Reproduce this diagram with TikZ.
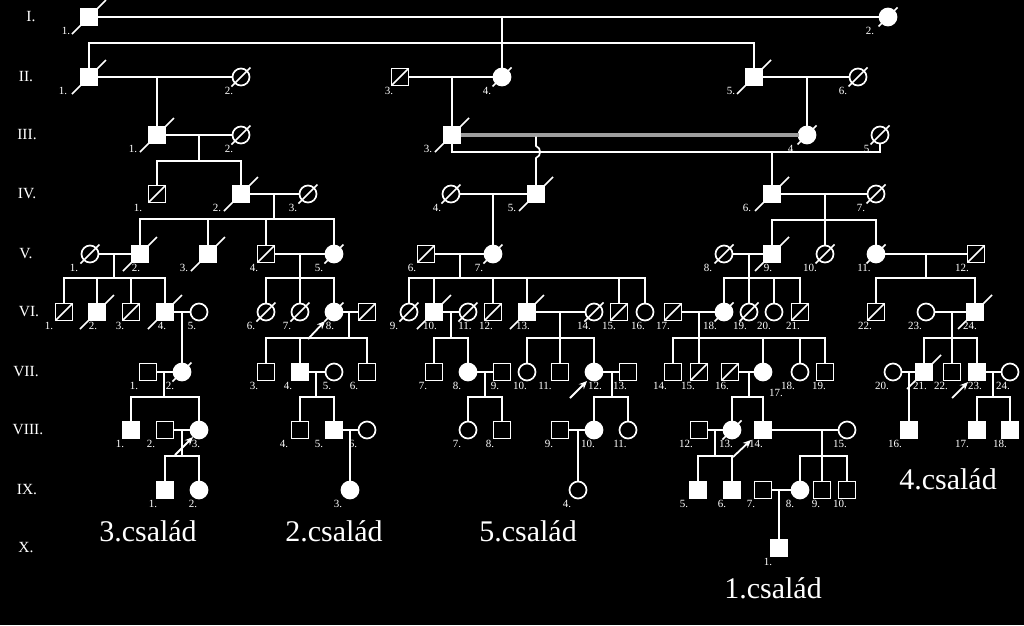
\documentclass[tikz,border=0pt]{standalone}
\usepackage{fontspec}
\setmainfont{Liberation Serif}
\usetikzlibrary{calc,arrows.meta}
\newcommand{\pind}[6]{%
  \node[#4] (#1) at (#2,#3) {};
  \node[num] (#1l) at (#6,#3+14) {#5};}
\newcommand{\dA}[1]{\draw[ln] ($(#1)+(-17,17)$) -- ($(#1)+(17,-17)$);}
\newcommand{\dU}[1]{\draw[ln] (#1.south west) -- (#1.north east);}
\newcommand{\dC}[1]{\draw[ln] ($(#1)+(-9.5,9.5)$) -- ($(#1)+(9.5,-9.5)$);}
\newcommand{\pfam}[5]{\coordinate (#1) at (#3,#4); \coordinate (#2) at (#3,#5); \draw[ln] (#1) -- (#2);}
\begin{document}
\begin{tikzpicture}[x=1pt,y=-1pt,
  pbase/.style={inner sep=0pt, outer sep=0pt, minimum size=17pt, line width=1.7pt, draw=white},
  M/.style={pbase, rectangle},
  MA/.style={M, fill=white},
  F/.style={pbase, circle},
  FA/.style={F, fill=white},
  num/.style={font=\fontsize{11}{11}\selectfont, text=white, inner sep=0pt},
  rowl/.style={font=\fontsize{15.5}{15.5}\selectfont, text=white, inner sep=0pt},
  famt/.style={font=\fontsize{30}{30}\selectfont, text=white, inner sep=0pt, anchor=base},
  ln/.style={draw=white, line width=1.7pt},
  dbl/.style={draw=white!62!black, line width=3.2pt},
  arr/.style={draw=white, line width=1.8pt, -{Stealth[length=8pt,width=7pt]}}
]
\fill[black] (0,0) rectangle (1024,625);
\useasboundingbox (0,0) rectangle (1024,625);

% row labels
\node[rowl] (r1) at (31,17) {I.};
\node[rowl] (r2) at (26,77) {II.};
\node[rowl] (r3) at (27,135) {III.};
\node[rowl] (r4) at (27,194) {IV.};
\node[rowl] (r5) at (26,254) {V.};
\node[rowl] (r6) at (29,312) {VI.};
\node[rowl] (r7) at (26,372) {VII.};
\node[rowl] (r8) at (28,430) {VIII.};
\node[rowl] (r9) at (27,490) {IX.};
\node[rowl] (r10) at (26,548) {X.};

% family captions
\node[famt] (c3) at (148,541) {3.család};
\node[famt] (c2) at (334,541) {2.család};
\node[famt] (c5) at (528,541) {5.család};
\node[famt] (c1) at (773,598) {1.család};
\node[famt] (c4) at (948,489) {4.család};

% ---------- generation I
\pind{i1}{89}{17}{MA}{1.}{66} \dA{i1}
\pind{i2}{888}{17}{FA}{2.}{870} \dC{i2}
% ---------- generation II
\pind{ii1}{89}{77}{MA}{1.}{63} \dA{ii1}
\pind{ii2}{241}{77}{F}{2.}{229} \dC{ii2}
\pind{ii3}{400}{77}{M}{3.}{389} \dU{ii3}
\pind{ii4}{502}{77}{FA}{4.}{487} \dC{ii4}
\pind{ii5}{754}{77}{MA}{5.}{731} \dA{ii5}
\pind{ii6}{858}{77}{F}{6.}{843} \dC{ii6}
% ---------- generation III
\pind{iii1}{157}{135}{MA}{1.}{133} \dA{iii1}
\pind{iii2}{241}{135}{F}{2.}{229} \dC{iii2}
\pind{iii3}{452}{135}{MA}{3.}{428} \dA{iii3}
\pind{iii4}{807}{135}{FA}{4.}{792} \dC{iii4}
\pind{iii5}{880}{135}{F}{5.}{868} \dC{iii5}
% ---------- generation IV
\pind{iv1}{157}{194}{M}{1.}{138} \dU{iv1}
\pind{iv2}{241}{194}{MA}{2.}{217} \dA{iv2}
\pind{iv3}{308}{194}{F}{3.}{293} \dC{iv3}
\pind{iv4}{451}{194}{F}{4.}{437} \dC{iv4}
\pind{iv5}{536}{194}{MA}{5.}{512} \dA{iv5}
\pind{iv6}{772}{194}{MA}{6.}{747} \dA{iv6}
\pind{iv7}{876}{194}{F}{7.}{861} \dC{iv7}
% ---------- generation V
\pind{v1}{90}{254}{F}{1.}{74} \dC{v1}
\pind{v2}{140}{254}{MA}{2.}{136} \dA{v2}
\pind{v3}{208}{254}{MA}{3.}{184} \dA{v3}
\pind{v4}{266}{254}{M}{4.}{254} \dU{v4}
\pind{v5}{334}{254}{FA}{5.}{319} \dC{v5}
\pind{v6}{426}{254}{M}{6.}{412} \dU{v6}
\pind{v7}{493}{254}{FA}{7.}{479} \dC{v7}
\pind{v8}{724}{254}{F}{8.}{708} \dC{v8}
\pind{v9}{772}{254}{MA}{9.}{768} \dA{v9}
\pind{v10}{825}{254}{F}{10.}{810} \dC{v10}
\pind{v11}{876}{254}{FA}{11.}{864} \dC{v11}
\pind{v12}{976}{254}{M}{12.}{962} \dU{v12}
% ---------- generation VI
\pind{vi1}{64}{312}{M}{1.}{49} \dU{vi1}
\pind{vi2}{97}{312}{MA}{2.}{93} \dA{vi2}
\pind{vi3}{131}{312}{M}{3.}{120} \dU{vi3}
\pind{vi4}{165}{312}{MA}{4.}{162} \dA{vi4}
\pind{vi5}{199}{312}{F}{5.}{192}
\pind{vi6}{266}{312}{F}{6.}{251} \dC{vi6}
\pind{vi7}{300}{312}{F}{7.}{287} \dC{vi7}
\pind{vi8}{334}{312}{FA}{8.}{330} \dC{vi8}
\node[M] (vi8s) at (367,312) {}; \dU{vi8s}
\pind{vi9}{409}{312}{F}{9.}{394} \dC{vi9}
\pind{vi10}{434}{312}{MA}{10.}{430} \dA{vi10}
\pind{vi11}{468}{312}{F}{11.}{465} \dC{vi11}
\pind{vi12}{493}{312}{M}{12.}{486} \dU{vi12}
\pind{vi13}{527}{312}{MA}{13.}{523} \dA{vi13}
\pind{vi14}{594}{312}{F}{14.}{584} \dC{vi14}
\pind{vi15}{619}{312}{M}{15.}{609} \dU{vi15}
\pind{vi16}{645}{312}{F}{16.}{638}
\pind{vi17}{673}{312}{M}{17.}{663} \dU{vi17}
\pind{vi18}{724}{312}{FA}{18.}{710} \dC{vi18}
\pind{vi19}{749}{312}{F}{19.}{740} \dC{vi19}
\pind{vi20}{774}{312}{F}{20.}{764}
\pind{vi21}{800}{312}{M}{21.}{793} \dU{vi21}
\pind{vi22}{876}{312}{M}{22.}{865} \dU{vi22}
\pind{vi23}{926}{312}{F}{23.}{915}
\pind{vi24}{975}{312}{MA}{24.}{970} \dA{vi24}
% ---------- generation VII
\pind{vii1}{148}{372}{M}{1.}{134}
\pind{vii2}{182}{372}{FA}{2.}{170} \dC{vii2}
\pind{vii3}{266}{372}{M}{3.}{254}
\pind{vii4}{300}{372}{MA}{4.}{288}
\pind{vii5}{334}{372}{F}{5.}{327}
\pind{vii6}{367}{372}{M}{6.}{354}
\pind{vii7}{434}{372}{M}{7.}{423}
\pind{vii8}{468}{372}{FA}{8.}{457}
\pind{vii9}{502}{372}{M}{9.}{495}
\pind{vii10}{527}{372}{F}{10.}{520}
\pind{vii11}{560}{372}{M}{11.}{545}
\pind{vii12}{594}{372}{FA}{12.}{595}
\pind{vii13}{628}{372}{M}{13.}{620}
\pind{vii14}{673}{372}{M}{14.}{660}
\pind{vii15}{699}{372}{M}{15.}{688} \dU{vii15}
\pind{vii16}{730}{372}{M}{16.}{722} \dU{vii16}
\node[FA] (vii17) at (763,372) {}; \node[num] (vii17l) at (776,393) {17.};
\pind{vii18}{800}{372}{F}{18.}{788}
\pind{vii19}{825}{372}{M}{19.}{819}
\pind{vii20}{893}{372}{F}{20.}{882}
\pind{vii21}{924}{372}{MA}{21.}{920} \dA{vii21}
\pind{vii22}{952}{372}{M}{22.}{941}
\pind{vii23}{977}{372}{MA}{23.}{975}
\pind{vii24}{1010}{372}{F}{24.}{1003}
% ---------- generation VIII
\pind{viii1}{131}{430}{MA}{1.}{120}
\pind{viii2}{165}{430}{M}{2.}{151}
\pind{viii3}{199}{430}{FA}{3.}{196}
\pind{viii4}{300}{430}{M}{4.}{284}
\pind{viii5}{334}{430}{MA}{5.}{319}
\pind{viii6}{367}{430}{F}{6.}{353}
\pind{viii7}{468}{430}{F}{7.}{457}
\pind{viii8}{502}{430}{M}{8.}{490}
\pind{viii9}{560}{430}{M}{9.}{549}
\pind{viii10}{594}{430}{FA}{10.}{588}
\pind{viii11}{628}{430}{F}{11.}{620}
\pind{viii12}{699}{430}{M}{12.}{686}
\pind{viii13}{732}{430}{FA}{13.}{726} \dC{viii13}
\pind{viii14}{763}{430}{MA}{14.}{756}
\pind{viii15}{847}{430}{F}{15.}{840}
\pind{viii16}{909}{430}{MA}{16.}{895}
\pind{viii17}{977}{430}{MA}{17.}{962}
\pind{viii18}{1010}{430}{MA}{18.}{1000}
% ---------- generation IX
\pind{ix1}{165}{490}{MA}{1.}{153}
\pind{ix2}{199}{490}{FA}{2.}{193}
\pind{ix3}{350}{490}{FA}{3.}{338}
\pind{ix4}{578}{490}{F}{4.}{567}
\pind{ix5}{698}{490}{MA}{5.}{684}
\pind{ix6}{732}{490}{MA}{6.}{722}
\pind{ix7}{763}{490}{M}{7.}{751}
\pind{ix8}{800}{490}{FA}{8.}{790}
\pind{ix9}{822}{490}{M}{9.}{816}
\pind{ix10}{847}{490}{M}{10.}{840}
% ---------- generation X
\pind{x1}{779}{548}{MA}{1.}{768}

% ================= connectors
% I
\draw[ln] (i1.east) -- (i2.west);
\pfam{m1}{s1}{502}{17}{43}
\draw[ln] (s1) -- (ii4.north);
\draw[ln] (ii1.north) |- (s1) -| (ii5.north);
% II
\draw[ln] (ii1.east) -- (ii2.west);
\coordinate (m2) at (157,77); \draw[ln] (m2) -- (iii1.north);
\draw[ln] (ii3.east) -- (ii4.west);
\coordinate (m3) at (452,77); \draw[ln] (m3) -- (iii3.north);
\draw[ln] (ii5.east) -- (ii6.west);
\coordinate (m4) at (807,77); \draw[ln] (m4) -- (iii4.north);
% III
\draw[ln] (iii1.east) -- (iii2.west);
\pfam{m5}{s5}{199}{135}{161}
\draw[ln] (iv1.north) |- (s5) -| (iv2.north);
\draw[dbl] (iii3.east) -- (iii4.west);
\coordinate (m6) at (536,136.6);
\coordinate (m7) at (772,152);
\draw[ln] (iii3.south) |- (m7) -| (iii5.south);
\draw[ln] (m7) -- (iv6.north);
\draw[ln] (m6) -- (536,146) .. controls (541.5,148) and (541.5,156) .. (536,158) -- (iv5.north);
% IV
\draw[ln] (iv2.east) -- (iv3.west);
\pfam{m8}{s8}{274}{194}{219}
\draw[ln] (v2.north) |- (s8) -| (v5.north);
\draw[ln] (v3.north) -- (v3.north |- s8);
\draw[ln] (v4.north) -- (v4.north |- s8);
\draw[ln] (iv4.east) -- (iv5.west);
\coordinate (m9) at (493,194); \draw[ln] (m9) -- (v7.north);
\draw[ln] (iv6.east) -- (iv7.west);
\pfam{m10}{s10}{825}{194}{220}
\draw[ln] (v9.north) |- (s10) -| (v11.north);
\draw[ln] (s10) -- (v10.north);
% V
\draw[ln] (v1.east) -- (v2.west);
\pfam{m11}{s11}{114}{254}{278}
\draw[ln] (vi1.north) |- (s11) -| (vi4.north);
\draw[ln] (vi2.north) -- (vi2.north |- s11);
\draw[ln] (vi3.north) -- (vi3.north |- s11);
\draw[ln] (v4.east) -- (v5.west);
\pfam{m12}{s12}{300}{254}{278}
\draw[ln] (vi6.north) |- (s12) -| (vi8.north);
\draw[ln] (s12) -- (vi7.north);
\draw[ln] (v6.east) -- (v7.west);
\pfam{m13}{s13}{460}{254}{278}
\draw[ln] (vi9.north) |- (s13) -| (vi16.north);
\foreach \c in {vi10,vi12,vi13,vi15} \draw[ln] (\c.north) -- (\c.north |- s13);
\draw[ln] (v8.east) -- (v9.west);
\pfam{m14}{s14}{749}{254}{278}
\draw[ln] (vi18.north) |- (s14) -| (vi21.north);
\draw[ln] (s14) -- (vi19.north);
\draw[ln] (vi20.north) -- (vi20.north |- s14);
\draw[ln] (v11.east) -- (v12.west);
\pfam{m15}{s15}{926}{254}{278}
\draw[ln] (vi22.north) |- (s15) -| (vi24.north);
% VI
\draw[ln] (vi4.east) -- (vi5.west);
\coordinate (m16) at (182,312); \draw[ln] (m16) -- (vii2.north);
\draw[ln] (vi8.east) -- (vi8s.west);
\pfam{m17}{s17}{349}{312}{338}
\draw[ln] (vii3.north) |- (s17) -| (vii6.north);
\draw[ln] (vii4.north) -- (vii4.north |- s17);
\draw[ln] (vi10.east) -- (vi11.west);
\pfam{m18}{s18}{451}{312}{338}
\draw[ln] (vii7.north) |- (s18) -| (vii8.north);
\draw[ln] (vi13.east) -- (vi14.west);
\pfam{m19}{s19}{560}{312}{338}
\draw[ln] (vii10.north) |- (s19) -| (vii12.north);
\draw[ln] (s19) -- (vii11.north);
\draw[ln] (vi17.east) -- (vi18.west);
\pfam{m20}{s20}{699}{312}{338}
\draw[ln] (vii14.north) |- (s20) -| (vii19.north);
\draw[ln] (s20) -- (vii15.north);
\draw[ln] (vii17.north) -- (vii17.north |- s20);
\draw[ln] (vii18.north) -- (vii18.north |- s20);
\draw[ln] (vi23.east) -- (vi24.west);
\pfam{m21}{s21}{952}{312}{338}
\draw[ln] (vii21.north) |- (s21) -| (vii23.north);
\draw[ln] (s21) -- (vii22.north);
% VII
\draw[ln] (vii1.east) -- (vii2.west);
\pfam{m22}{s22}{164}{372}{397}
\draw[ln] (viii1.north) |- (s22) -| (viii3.north);
\draw[ln] (vii4.east) -- (vii5.west);
\pfam{m23}{s23}{316}{372}{397}
\draw[ln] (viii4.north) |- (s23) -| (viii5.north);
\draw[ln] (vii8.east) -- (vii9.west);
\pfam{m24}{s24}{485}{372}{397}
\draw[ln] (viii7.north) |- (s24) -| (viii8.north);
\draw[ln] (vii12.east) -- (vii13.west);
\pfam{m25}{s25}{612}{372}{397}
\draw[ln] (viii10.north) |- (s25) -| (viii11.north);
\draw[ln] (vii16.east) -- (vii17.west);
\pfam{m26}{s26}{749}{372}{397}
\draw[ln] (viii13.north) |- (s26) -| (viii14.north);
\draw[ln] (vii20.east) -- (vii21.west);
\coordinate (m27) at (909,372); \draw[ln] (m27) -- (viii16.north);
\draw[ln] (vii23.east) -- (vii24.west);
\pfam{m28}{s28}{993}{372}{397}
\draw[ln] (viii17.north) |- (s28) -| (viii18.north);
% VIII
\draw[ln] (viii2.east) -- (viii3.west);
\pfam{m29}{s29}{182}{430}{456}
\draw[ln] (ix1.north) |- (s29) -| (ix2.north);
\draw[ln] (viii5.east) -- (viii6.west);
\coordinate (m30) at (350,430); \draw[ln] (m30) -- (ix3.north);
\draw[ln] (viii9.east) -- (viii10.west);
\coordinate (m31) at (578,430); \draw[ln] (m31) -- (ix4.north);
\draw[ln] (viii12.east) -- (viii13.west);
\pfam{m32}{s32}{715}{430}{456}
\draw[ln] (ix5.north) |- (s32) -| (ix6.north);
\draw[ln] (viii14.east) -- (viii15.west);
\pfam{m33}{s33}{822}{430}{456}
\draw[ln] (ix8.north) |- (s33) -| (ix10.north);
\draw[ln] (s33) -- (ix9.north);
% IX
\draw[ln] (ix7.east) -- (ix8.west);
\coordinate (m34) at (779,490); \draw[ln] (m34) -- (x1.north);

% proband arrows
\coordinate (pa1) at (308,339); \coordinate (pt1) at ($(vi8)+(-9,9)$);
\draw[arr] (pa1) -- (pt1);
\coordinate (pa2) at (175,455); \coordinate (pt2) at ($(viii3)+(-6,7)$);
\draw[arr] (pa2) -- (pt2);
\coordinate (pa3) at (570,398); \coordinate (pt3) at ($(vii12)+(-7,9)$);
\draw[arr] (pa3) -- (pt3);
\coordinate (pa4) at (733,457); \coordinate (pt4) at ($(viii14)+(-12,10)$);
\draw[arr] (pa4) -- (pt4);
\coordinate (pa5) at (952,398); \coordinate (pt5) at ($(vii23)+(-9,10)$);
\draw[arr] (pa5) -- (pt5);
\end{tikzpicture}
\end{document}
